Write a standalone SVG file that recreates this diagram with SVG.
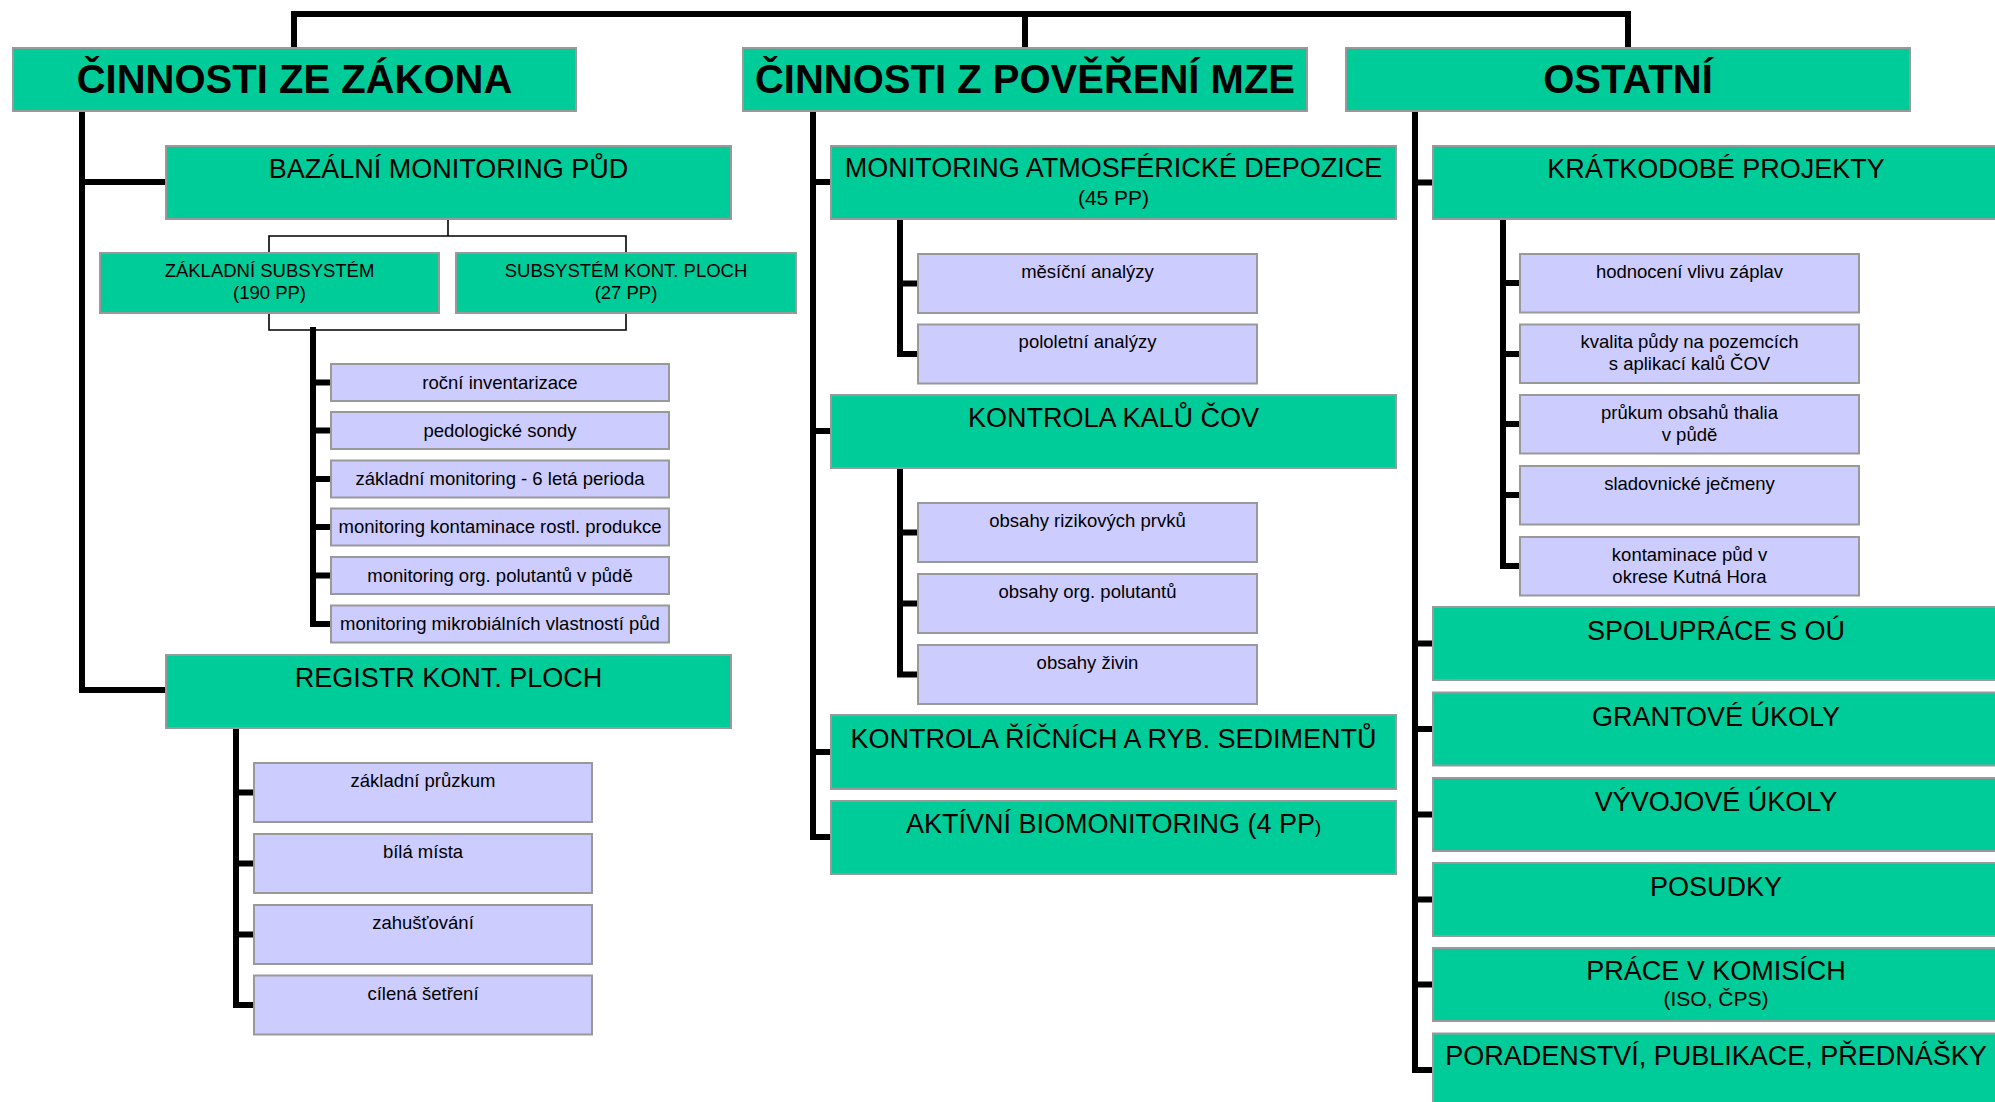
<svg xmlns="http://www.w3.org/2000/svg" width="1995" height="1102" viewBox="0 0 1995 1102">
<style>
text{font-family:"Liberation Sans",Arial,sans-serif;fill:#000;text-anchor:middle}
.g{fill:#00CC99;stroke:#999;stroke-width:2}
.l{fill:#CCCCFF;stroke:#999;stroke-width:2}
.b{font-size:40px;font-weight:bold}
.h{font-size:27px}
.m{font-size:21px}
.s{font-size:18.5px}
.c{fill:none;stroke:#000;stroke-width:6;stroke-linecap:square;stroke-linejoin:miter}
.t{fill:none;stroke:#000;stroke-width:1.6}
</style>
<rect width="1995" height="1102" fill="#fff"/>
<g id="connectors">
<path class="c" d="M294,48V14H1628V48M1025,14V48"/>
<path class="c" d="M82,111V690H166M82,182H166"/>
<path class="t" d="M448,219V236M269,253V236H626V253M269,313V330H626V313"/>
<path class="c" d="M313,330V624H331M313,382.5H331M313,430.5H331M313,479H331M313,527H331M313,575.5H331"/>
<path class="c" d="M236,728V1005H254M236,792.5H254M236,863.5H254M236,934.5H254"/>
<path class="c" d="M813,111V837H831M813,182H831M813,431H831M813,752H831"/>
<path class="c" d="M900,219V354H918M900,283.5H918"/>
<path class="c" d="M900,468V674.5H918M900,532.5H918M900,603.5H918"/>
<path class="c" d="M1415,111V1070H1433M1415,182.5H1433M1415,643.5H1433M1415,729H1433M1415,814.5H1433M1415,899.5H1433M1415,984.5H1433"/>
<path class="c" d="M1503,219V566H1520M1503,283H1520M1503,354H1520M1503,424H1520M1503,495H1520"/>
</g>
<g id="n-zakon"><rect class="g" x="13" y="48" width="563" height="63"/><text class="b" x="294.5" y="93">ČINNOSTI ZE ZÁKONA</text></g>
<g id="n-mze"><rect class="g" x="743" y="48" width="564" height="63"/><text class="b" x="1025" y="93">ČINNOSTI Z POVĚŘENÍ MZE</text></g>
<g id="n-ostatni"><rect class="g" x="1346" y="48" width="564" height="63"/><text class="b" x="1628" y="93">OSTATNÍ</text></g>

<g id="n-bazalni"><rect class="g" x="166" y="146" width="565" height="73"/><text class="h" x="448.5" y="178">BAZÁLNÍ MONITORING PŮD</text></g>
<g id="n-zaklsub"><rect class="g" x="100" y="253" width="339" height="60"/><text class="s" x="269.5" y="277">ZÁKLADNÍ SUBSYSTÉM</text><text class="s" x="269.5" y="299">(190 PP)</text></g>
<g id="n-subkont"><rect class="g" x="456" y="253" width="340" height="60"/><text class="s" x="626" y="277">SUBSYSTÉM KONT. PLOCH</text><text class="s" x="626" y="299">(27 PP)</text></g>
<g id="n-rocni"><rect class="l" x="331" y="364" width="338" height="37"/><text class="s" x="500" y="388.5">roční inventarizace</text></g>
<g id="n-sondy"><rect class="l" x="331" y="412" width="338" height="37"/><text class="s" x="500" y="436.5">pedologické sondy</text></g>
<g id="n-zaklmon"><rect class="l" x="331" y="460.5" width="338" height="37"/><text class="s" x="500" y="485">základní monitoring - 6 letá perioda</text></g>
<g id="n-rostl"><rect class="l" x="331" y="508.5" width="338" height="37"/><text class="s" x="500" y="533">monitoring kontaminace rostl. produkce</text></g>
<g id="n-org"><rect class="l" x="331" y="557" width="338" height="37"/><text class="s" x="500" y="581.5">monitoring org. polutantů v půdě</text></g>
<g id="n-mikro"><rect class="l" x="331" y="605.5" width="338" height="37"/><text class="s" x="500" y="630">monitoring mikrobiálních vlastností půd</text></g>

<g id="n-registr"><rect class="g" x="166" y="655" width="565" height="73"/><text class="h" x="448.5" y="687">REGISTR KONT. PLOCH</text></g>
<g id="n-pruzkum"><rect class="l" x="254" y="763" width="338" height="59"/><text class="s" x="423" y="787">základní průzkum</text></g>
<g id="n-bila"><rect class="l" x="254" y="834" width="338" height="59"/><text class="s" x="423" y="858">bílá místa</text></g>
<g id="n-zahus"><rect class="l" x="254" y="905" width="338" height="59"/><text class="s" x="423" y="929">zahušťování</text></g>
<g id="n-cilena"><rect class="l" x="254" y="975.5" width="338" height="59"/><text class="s" x="423" y="999.5">cílená šetření</text></g>

<g id="n-atm"><rect class="g" x="831" y="146" width="565" height="73"/><text class="h" x="1113.5" y="177">MONITORING ATMOSFÉRICKÉ DEPOZICE</text><text class="m" x="1113.5" y="205">(45 PP)</text></g>
<g id="n-mesicni"><rect class="l" x="918" y="254" width="339" height="59"/><text class="s" x="1087.5" y="277.5">měsíční analýzy</text></g>
<g id="n-pololetni"><rect class="l" x="918" y="324.5" width="339" height="59"/><text class="s" x="1087.5" y="348">pololetní analýzy</text></g>
<g id="n-kalu"><rect class="g" x="831" y="395" width="565" height="73"/><text class="h" x="1113.5" y="427">KONTROLA KALŮ ČOV</text></g>
<g id="n-rizik"><rect class="l" x="918" y="503" width="339" height="59"/><text class="s" x="1087.5" y="526.5">obsahy rizikových prvků</text></g>
<g id="n-orgpol"><rect class="l" x="918" y="574" width="339" height="59"/><text class="s" x="1087.5" y="597.5">obsahy org. polutantů</text></g>
<g id="n-zivin"><rect class="l" x="918" y="645" width="339" height="59"/><text class="s" x="1087.5" y="668.5">obsahy živin</text></g>
<g id="n-ricni"><rect class="g" x="831" y="715" width="565" height="74"/><text class="h" x="1113.5" y="748">KONTROLA ŘÍČNÍCH A RYB. SEDIMENTŮ</text></g>
<g id="n-aktivni"><rect class="g" x="831" y="801" width="565" height="73"/><text class="h" x="1113.5" y="833">AKTÍVNÍ BIOMONITORING (4 PP<tspan font-size="18.5px">)</tspan></text></g>

<g id="n-kratk"><rect class="g" x="1433" y="146" width="566" height="73"/><text class="h" x="1716" y="178">KRÁTKODOBÉ PROJEKTY</text></g>
<g id="n-zaplav"><rect class="l" x="1520" y="254" width="339" height="58.5"/><text class="s" x="1689.5" y="277.5">hodnocení vlivu záplav</text></g>
<g id="n-kvalita"><rect class="l" x="1520" y="324.5" width="339" height="58.5"/><text class="s" x="1689.5" y="348">kvalita půdy na pozemcích</text><text class="s" x="1689.5" y="370">s aplikací kalů ČOV</text></g>
<g id="n-thalia"><rect class="l" x="1520" y="395" width="339" height="58.5"/><text class="s" x="1689.5" y="418.5">průkum obsahů thalia</text><text class="s" x="1689.5" y="440.5">v půdě</text></g>
<g id="n-jecmeny"><rect class="l" x="1520" y="466" width="339" height="58.5"/><text class="s" x="1689.5" y="489.5">sladovnické ječmeny</text></g>
<g id="n-kutna"><rect class="l" x="1520" y="537" width="339" height="58.5"/><text class="s" x="1689.5" y="560.5">kontaminace půd v</text><text class="s" x="1689.5" y="582.5">okrese Kutná Hora</text></g>
<g id="n-ou"><rect class="g" x="1433" y="607" width="566" height="73"/><text class="h" x="1716" y="640">SPOLUPRÁCE S OÚ</text></g>
<g id="n-grant"><rect class="g" x="1433" y="692.5" width="566" height="73"/><text class="h" x="1716" y="725.5">GRANTOVÉ ÚKOLY</text></g>
<g id="n-vyvoj"><rect class="g" x="1433" y="778" width="566" height="73"/><text class="h" x="1716" y="811">VÝVOJOVÉ ÚKOLY</text></g>
<g id="n-posudky"><rect class="g" x="1433" y="863" width="566" height="73"/><text class="h" x="1716" y="896">POSUDKY</text></g>
<g id="n-komise"><rect class="g" x="1433" y="948" width="566" height="73"/><text class="h" x="1716" y="980">PRÁCE V KOMISÍCH</text><text class="m" x="1716" y="1006">(ISO, ČPS)</text></g>
<g id="n-poradenstvi"><rect class="g" x="1433" y="1033.5" width="566" height="73"/><text class="h" x="1716" y="1065">PORADENSTVÍ, PUBLIKACE, PŘEDNÁŠKY</text></g>
</svg>
